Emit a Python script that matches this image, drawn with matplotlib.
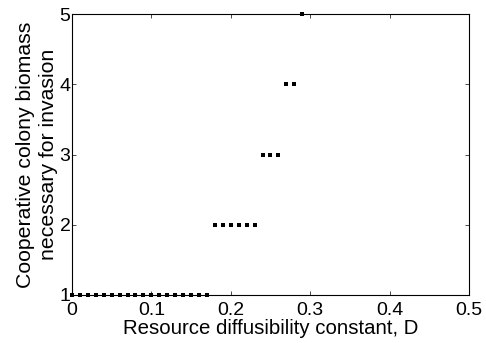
import matplotlib
matplotlib.use("Agg")
import matplotlib.pyplot as plt
import numpy as np

plt.rcParams['font.family'] = ['Liberation Sans', 'DejaVu Sans']

# Data
D_level1 = [0.00, 0.01, 0.02, 0.03, 0.04, 0.05, 0.06, 0.07, 0.08, 0.09,
            0.10, 0.11, 0.12, 0.13, 0.14, 0.15, 0.16, 0.17]
D_level2 = [0.18, 0.19, 0.20, 0.21, 0.22, 0.23]
D_level3 = [0.24, 0.25, 0.26]
D_level4 = [0.27, 0.28]
D_level5 = [0.29]
biomass_levels = [1, 2, 3, 4, 5]

xticks = [0, 0.1, 0.2, 0.3, 0.4, 0.5]
xticklabels = ['0', '0.1', '0.2', '0.3', '0.4', '0.5']
yticks = [1, 2, 3, 4, 5]

fig = plt.figure(figsize=(4.86, 3.43), dpi=100)
ax = fig.add_axes([0.148, 0.140, 0.817, 0.819])

for xs, lvl in zip([D_level1, D_level2, D_level3, D_level4, D_level5], biomass_levels):
    ax.plot(xs, [lvl] * len(xs), linestyle='none', marker='s', markersize=2.6,
            markeredgewidth=0, color='black', clip_on=False)

ax.set_xlim(0, 0.5)
ax.set_ylim(1, 5)
ax.set_xticks(xticks)
ax.set_xticklabels(xticklabels)
ax.set_yticks(yticks)
ax.tick_params(direction='in', length=3, width=0.5, labelsize=14,
               top=True, right=True)
ax.tick_params(axis='x', pad=5)
ax.tick_params(axis='y', pad=1)
for s in ax.spines.values():
    s.set_linewidth(0.8)

ax.set_xlabel('Resource diffusibility constant, D', fontsize=14.7, labelpad=0)
ax.set_ylabel('Cooperative colony biomass\nnecessary for invasion', fontsize=15.3,
              labelpad=1, linespacing=1.25)

fig.savefig('out.png', dpi=100)
